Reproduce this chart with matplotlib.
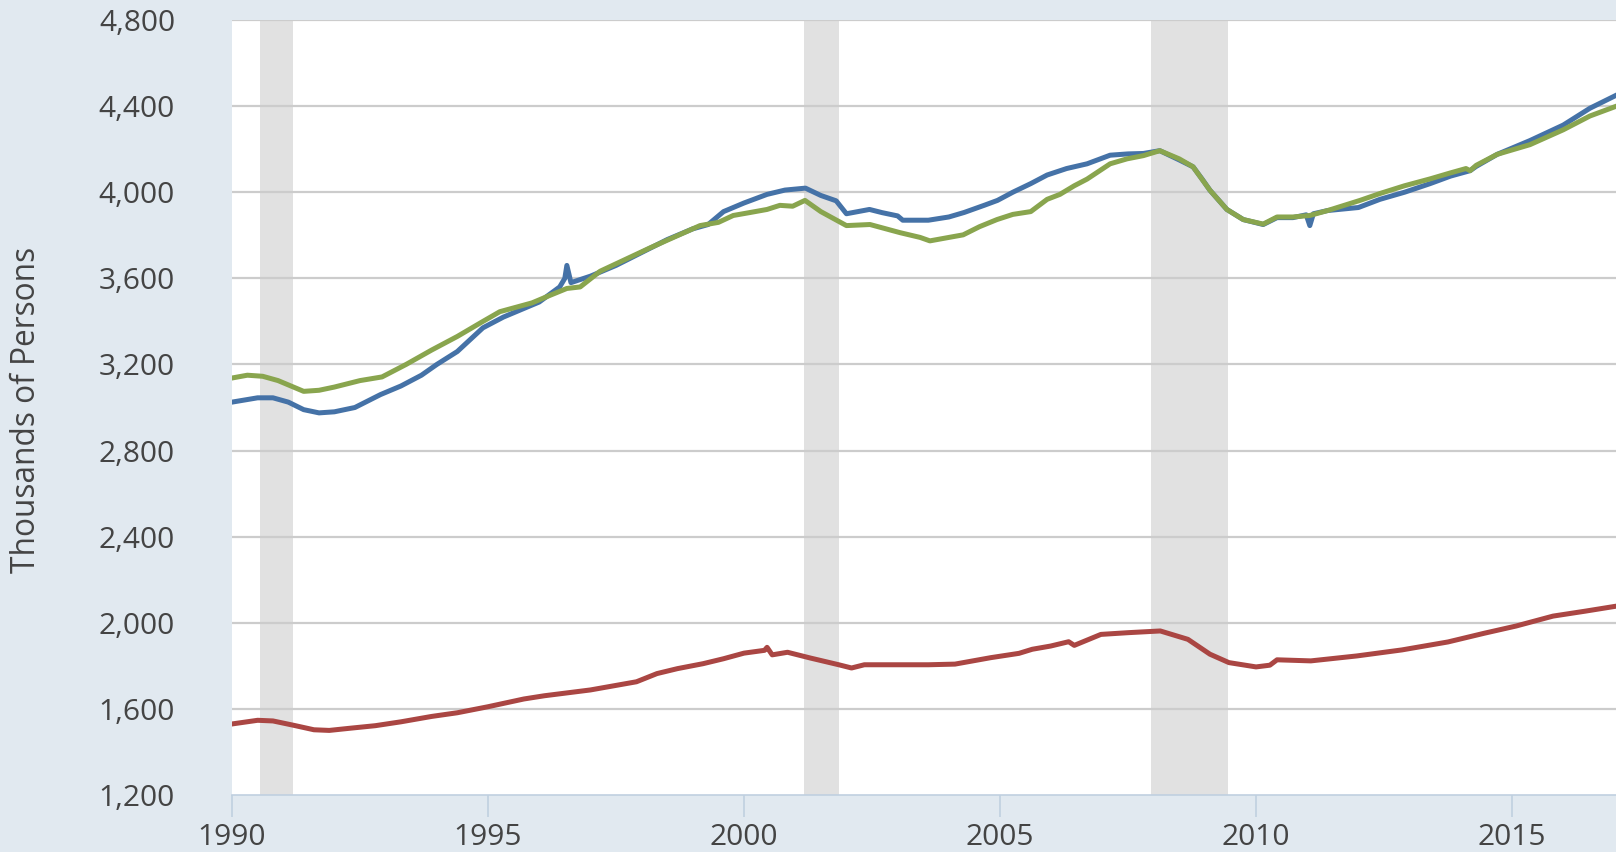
"""
Employment level chart (thousands of persons), 1990-2017, three series
with recession shading in the FRED / Highcharts style.
"""

import matplotlib.pyplot as plt
from matplotlib.ticker import FuncFormatter

# ---- data ----
blue_years = [1990.0, 1990.25, 1990.5, 1990.8, 1991.1, 1991.4, 1991.7, 1992.0, 1992.4, 1992.9,
              1993.3, 1993.7, 1994.0, 1994.4, 1994.9, 1995.3, 1995.7, 1996.0, 1996.4, 1996.5,
              1996.54, 1996.62, 1997.0, 1997.5, 1998.0, 1998.5, 1999.0, 1999.3, 1999.6, 2000.0,
              2000.45, 2000.8, 2001.2, 2001.5, 2001.8, 2002.0, 2002.45, 2002.7, 2003.0, 2003.1,
              2003.6, 2004.0, 2004.3, 2004.7, 2004.95, 2005.25, 2005.6, 2005.92, 2006.3, 2006.7,
              2007.15, 2007.5, 2007.8, 2008.12, 2008.5, 2008.77, 2008.95, 2009.1, 2009.43, 2009.75,
              2010.14, 2010.41, 2010.72, 2010.98, 2011.05, 2011.12, 2011.4, 2012.0, 2012.42, 2012.9,
              2013.4, 2013.8, 2014.18, 2014.3, 2014.71, 2015.35, 2016.0, 2016.52, 2017.03]
blue_values = [3025, 3035, 3045, 3045, 3025, 2990, 2975, 2980, 3000, 3060,
               3100, 3150, 3200, 3260, 3370, 3420, 3460, 3490, 3560, 3600,
               3660, 3580, 3610, 3660, 3720, 3780, 3830, 3850, 3910, 3950,
               3990, 4010, 4019, 3985, 3960, 3900, 3920, 3905, 3890, 3870,
               3870, 3885, 3906, 3940, 3962, 4000, 4040, 4080, 4110, 4132,
               4172, 4178, 4180, 4193, 4150, 4118, 4060, 4009, 3920, 3873,
               3850, 3882, 3882, 3895, 3845, 3900, 3915, 3929, 3967, 4000,
               4040, 4075, 4100, 4120, 4176, 4240, 4312, 4390, 4450]

green_years = [1990.0, 1990.3, 1990.6, 1990.9, 1991.2, 1991.4, 1991.7, 1992.0, 1992.5, 1992.93,
               1993.4, 1993.9, 1994.4, 1994.88, 1995.23, 1995.86, 1996.2, 1996.54, 1996.8, 1997.19,
               1998.16, 1999.14, 1999.5, 1999.79, 2000.1, 2000.45, 2000.7, 2000.95, 2001.19, 2001.5,
               2002.0, 2002.46, 2003.05, 2003.44, 2003.63, 2004.0, 2004.28, 2004.6, 2004.94, 2005.25,
               2005.6, 2005.92, 2006.17, 2006.45, 2006.7, 2007.15, 2007.48, 2007.8, 2008.12, 2008.5,
               2008.77, 2009.1, 2009.43, 2009.75, 2010.14, 2010.41, 2010.72, 2011.05, 2011.4, 2012.03,
               2012.42, 2012.9, 2013.4, 2013.8, 2014.1, 2014.18, 2014.3, 2014.71, 2015.35, 2016.0,
               2016.52, 2017.03]
green_values = [3137, 3150, 3145, 3125, 3095, 3075, 3080, 3095, 3125, 3142,
                3200, 3267, 3330, 3397, 3445, 3486, 3520, 3553, 3560, 3633,
                3741, 3845, 3860, 3892, 3905, 3920, 3939, 3935, 3962, 3910,
                3845, 3850, 3812, 3790, 3774, 3790, 3802, 3840, 3873, 3897,
                3910, 3967, 3990, 4030, 4061, 4132, 4155, 4170, 4193, 4155,
                4118, 4009, 3920, 3873, 3852, 3885, 3885, 3892, 3915, 3962,
                3994, 4030, 4062, 4090, 4110, 4100, 4125, 4176, 4221, 4290,
                4354, 4399]

red_years = [1990.0, 1990.5, 1990.8, 1991.2, 1991.6, 1991.9, 1992.3, 1992.8, 1993.3, 1993.9,
             1994.4, 1995.0, 1995.7, 1996.1, 1997.0, 1997.9, 1998.3, 1998.7, 1999.2, 1999.6,
             2000.0, 2000.4, 2000.45, 2000.55, 2000.85, 2001.3, 2001.85, 2002.1, 2002.35, 2003.05,
             2003.6, 2004.12, 2004.82, 2005.37, 2005.63, 2005.99, 2006.34, 2006.45, 2006.97, 2007.5,
             2008.13, 2008.67, 2009.1, 2009.47, 2010.0, 2010.27, 2010.41, 2011.07, 2011.97, 2012.85,
             2013.75, 2014.45, 2015.08, 2015.8, 2016.43, 2017.03]
red_values = [1530, 1547, 1544, 1524, 1503, 1500, 1510, 1522, 1540, 1565,
              1582, 1610, 1646, 1661, 1688, 1726, 1764, 1787, 1810, 1833,
              1859, 1872, 1886, 1851, 1863, 1836, 1805, 1790, 1805, 1805,
              1805, 1808, 1838, 1858, 1877, 1892, 1912, 1895, 1946, 1954,
              1962, 1923, 1854, 1815, 1795, 1803, 1828, 1823, 1846, 1874,
              1911, 1951, 1985, 2031, 2054, 2077]

recession_starts = [1990.55, 2001.17, 2007.95]
recession_ends = [1991.2, 2001.86, 2009.45]

x_ticks = [1990, 1995, 2000, 2005, 2010, 2015]
y_ticks = [1200, 1600, 2000, 2400, 2800, 3200, 3600, 4000, 4400, 4800]

BG = '#e1e9f0'
TEXT = '#444444'

plt.rcParams['font.family'] = ['Open Sans', 'DejaVu Sans']

fig = plt.figure(figsize=(16.16, 8.52), dpi=100, facecolor=BG)
ax = fig.add_axes([232 / 1616, 1 - 795 / 852, 1 - 232 / 1616, (795 - 20) / 852])
ax.set_facecolor('white')

# recession bars
for start, end in zip(recession_starts, recession_ends):
    ax.axvspan(start, end, color='#e1e1e1', lw=0, zorder=1)

# horizontal grid
for y in y_ticks[1:]:
    ax.axhline(y, color='#cccccc', lw=1.6, zorder=2)

ax.plot(red_years, red_values, color='#aa4643', lw=3.6, zorder=3, solid_joinstyle='round')
ax.plot(green_years, green_values, color='#89a54e', lw=3.6, zorder=4, solid_joinstyle='round')
ax.plot(blue_years, blue_values, color='#4572a7', lw=3.6, zorder=3, solid_joinstyle='round')

ax.set_xlim(1990, 2017.03)
ax.set_ylim(1200, 4800)

ax.set_xticks(x_ticks)
ax.set_yticks(y_ticks)
ax.yaxis.set_major_formatter(FuncFormatter(lambda v, p: f'{int(v):,}'))

for side in ['top', 'right', 'left']:
    ax.spines[side].set_visible(False)
ax.spines['bottom'].set_color('#c0d0e0')
ax.spines['bottom'].set_linewidth(1.2)

ax.tick_params(axis='y', length=0, pad=41, labelsize=21.5, labelcolor=TEXT)
ax.tick_params(axis='x', length=16, width=1.2, color='#c0d0e0', pad=4,
               labelsize=21.5, labelcolor=TEXT)

fig.text(27 / 1616, 1 - 410 / 852, 'Thousands of Persons', rotation=90,
         ha='center', va='center', fontsize=22.8, color=TEXT)

plt.savefig('out.png', dpi=100, facecolor=BG)
plt.close()
